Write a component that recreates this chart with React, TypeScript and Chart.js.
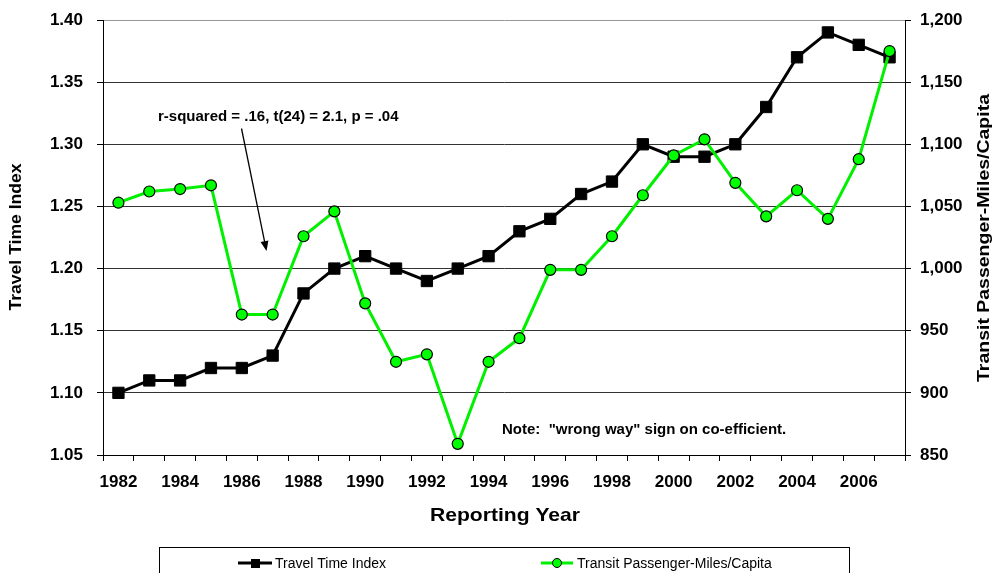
import React, { useEffect, useRef } from 'react';
import { Chart, registerables } from 'chart.js';

Chart.register(...registerables);

const years = [
  '1982', '1983', '1984', '1985', '1986', '1987', '1988', '1989', '1990', '1991', '1992', '1993', '1994',
  '1995', '1996', '1997', '1998', '1999', '2000', '2001', '2002', '2003', '2004', '2005', '2006', '2007',
];
const travelTimeIndex = [
  1.10, 1.11, 1.11, 1.12, 1.12, 1.13, 1.18, 1.20, 1.21, 1.20, 1.19, 1.20, 1.21,
  1.23, 1.24, 1.26, 1.27, 1.30, 1.29, 1.29, 1.30, 1.33, 1.37, 1.39, 1.38, 1.37,
];
const transitPassengerMiles = [
  1053, 1062, 1064, 1067, 963, 963, 1026, 1046, 972, 925, 931, 859, 925,
  944, 999, 999, 1026, 1059, 1091, 1104, 1069, 1042, 1063, 1040, 1088, 1175,
];
const seriesNames = ['Travel Time Index', 'Transit Passenger-Miles/Capita'];
const axisTitles = { left: 'Travel Time Index', right: 'Transit Passenger-Miles/Capita', bottom: 'Reporting Year' };
const annotationText = 'r-squared = .16, t(24) = 2.1, p = .04';
const noteText = 'Note:  "wrong way" sign on co-efficient.';

const FAMILY = '"Liberation Sans", Arial, Helvetica, sans-serif';
const GREEN = '#00FF00';
const GREEN_LINE = '#00F000';

function drawText(
  ctx: CanvasRenderingContext2D,
  text: string,
  cx: number,
  cy: number,
  font: string,
  targetLen: number | null,
  rotation: number,
) {
  ctx.save();
  ctx.font = font;
  const w = ctx.measureText(text).width;
  ctx.translate(cx, cy);
  ctx.rotate(rotation);
  if (targetLen) ctx.scale(targetLen / w, 1);
  ctx.textAlign = 'center';
  ctx.textBaseline = 'middle';
  ctx.fillStyle = '#000';
  ctx.fillText(text, 0, 0);
  ctx.restore();
}

const overlayPlugin = {
  id: 'overlay',
  afterDraw(chart: any) {
    const ctx: CanvasRenderingContext2D = chart.ctx;
    // axis titles
    drawText(ctx, axisTitles.left, 16, 237, `bold 17px ${FAMILY}`, 147, -Math.PI / 2);
    drawText(ctx, axisTitles.right, 985, 238, `bold 16px ${FAMILY}`, 288, -Math.PI / 2);
    drawText(ctx, axisTitles.bottom, 505, 516, `bold 19px ${FAMILY}`, 150, 0);

    // annotation text + arrow
    ctx.save();
    ctx.font = `bold 15px ${FAMILY}`;
    ctx.fillStyle = '#000';
    ctx.textAlign = 'left';
    ctx.textBaseline = 'middle';
    ctx.fillText(annotationText, 158, 117);
    ctx.fillText(noteText, 502, 430);

    const x0 = 241.5, y0 = 128.5, x1 = 266.5, y1 = 251;
    const ang = Math.atan2(y1 - y0, x1 - x0);
    ctx.strokeStyle = '#000';
    ctx.lineWidth = 1.3;
    ctx.beginPath();
    ctx.moveTo(x0, y0);
    ctx.lineTo(x1 - 8 * Math.cos(ang), y1 - 8 * Math.sin(ang));
    ctx.stroke();
    ctx.beginPath();
    ctx.moveTo(x1, y1);
    ctx.lineTo(x1 - 10 * Math.cos(ang) + 4 * Math.sin(ang), y1 - 10 * Math.sin(ang) - 4 * Math.cos(ang));
    ctx.lineTo(x1 - 10 * Math.cos(ang) - 4 * Math.sin(ang), y1 - 10 * Math.sin(ang) + 4 * Math.cos(ang));
    ctx.closePath();
    ctx.fillStyle = '#000';
    ctx.fill();

    // legend box
    ctx.strokeStyle = '#000';
    ctx.lineWidth = 1;
    ctx.strokeRect(159.5, 547.5, 690, 40);

    const ly = 563;
    // travel time index entry
    ctx.beginPath();
    ctx.lineWidth = 3;
    ctx.strokeStyle = '#000';
    ctx.moveTo(238, ly);
    ctx.lineTo(272, ly);
    ctx.stroke();
    ctx.fillStyle = '#000';
    ctx.fillRect(251, ly - 4, 9, 9);
    // transit entry
    ctx.beginPath();
    ctx.strokeStyle = GREEN_LINE;
    ctx.moveTo(541, ly);
    ctx.lineTo(573, ly);
    ctx.stroke();
    ctx.beginPath();
    ctx.arc(557, ly, 4.5, 0, Math.PI * 2);
    ctx.fillStyle = GREEN;
    ctx.fill();
    ctx.lineWidth = 1;
    ctx.strokeStyle = '#000';
    ctx.stroke();

    ctx.font = `14px ${FAMILY}`;
    ctx.fillStyle = '#000';
    ctx.textBaseline = 'middle';
    ctx.fillText(seriesNames[0], 275, ly + 1);
    ctx.fillText(seriesNames[1], 577, ly + 1);
    ctx.restore();
  },
};

export default function App() {
  const canvasRef = useRef<HTMLCanvasElement | null>(null);

  useEffect(() => {
    const canvas = canvasRef.current;
    if (!canvas) return;
    const tickFont = { family: FAMILY, size: 17, weight: 'bold' as const };
    const chart = new Chart(canvas, {
      type: 'line',
      data: {
        labels: years,
        datasets: [
          {
            label: seriesNames[1],
            data: transitPassengerMiles,
            yAxisID: 'y1',
            borderColor: GREEN_LINE,
            backgroundColor: GREEN,
            borderWidth: 3,
            pointStyle: 'circle',
            pointRadius: 5.5,
            pointBorderColor: '#000',
            pointBackgroundColor: GREEN,
            pointBorderWidth: 1.2,
            tension: 0,
            order: 0,
          },
          {
            label: seriesNames[0],
            data: travelTimeIndex,
            yAxisID: 'y',
            borderColor: '#000',
            backgroundColor: '#000',
            borderWidth: 3,
            pointStyle: 'rect',
            pointRadius: 8,
            pointBorderColor: '#000',
            pointBackgroundColor: '#000',
            pointBorderWidth: 1,
            tension: 0,
            order: 1,
          },
        ],
      },
      options: {
        responsive: false,
        animation: false,
        devicePixelRatio: 1,
        layout: { padding: { top: 20, left: 0, right: 0, bottom: 0 } },
        plugins: {
          legend: { display: false },
          tooltip: { enabled: false },
          title: { display: false },
        },
        scales: {
          x: {
            type: 'category',
            offset: true,
            grid: {
              offset: true,
              drawOnChartArea: false,
              tickLength: 6,
              color: '#000',
              tickColor: '#000',
            },
            border: { display: true, color: '#000', width: 1 },
            ticks: {
              autoSkip: false,
              maxRotation: 0,
              minRotation: 0,
              color: '#000',
              font: tickFont,
              padding: 11,
              callback: (_v: any, i: number) => (i % 2 === 0 ? years[i] : ''),
            },
            afterFit: (s: any) => {
              s.height = 118;
              s.paddingLeft = 0;
              s.paddingRight = 0;
            },
          },
          y: {
            position: 'left',
            min: 1.05,
            max: 1.4,
            grid: {
              color: (c: any) => (Math.abs(c.tick.value - 1.4) < 1e-6 ? '#999' : '#333'),
              tickColor: '#000',
              tickLength: 6,
              lineWidth: 1,
            },
            border: { display: true, color: '#000', width: 1 },
            ticks: {
              stepSize: 0.05,
              color: '#000',
              font: tickFont,
              padding: 14,
              callback: (v: any) => Number(v).toFixed(2),
            },
            afterFit: (s: any) => {
              s.width = 103;
              s.paddingTop = 10;
              s.paddingBottom = 10;
            },
          },
          y1: {
            position: 'right',
            min: 850,
            max: 1200,
            grid: { drawOnChartArea: false, tickColor: '#000', tickLength: 6 },
            border: { display: true, color: '#000', width: 1 },
            ticks: {
              stepSize: 50,
              color: '#000',
              font: tickFont,
              padding: 9,
              callback: (v: any) => Number(v).toLocaleString('en-US'),
            },
            afterFit: (s: any) => {
              s.width = 95;
              s.paddingTop = 10;
              s.paddingBottom = 10;
            },
          },
        },
      },
      plugins: [overlayPlugin],
    });
    return () => chart.destroy();
  }, []);

  return (
    <div style={{ position: 'absolute', left: 0, top: 0, width: 1000, height: 573, background: '#fff' }}>
      <canvas ref={canvasRef} width={1000} height={573} style={{ display: 'block', width: 1000, height: 573 }} />
    </div>
  );
}
